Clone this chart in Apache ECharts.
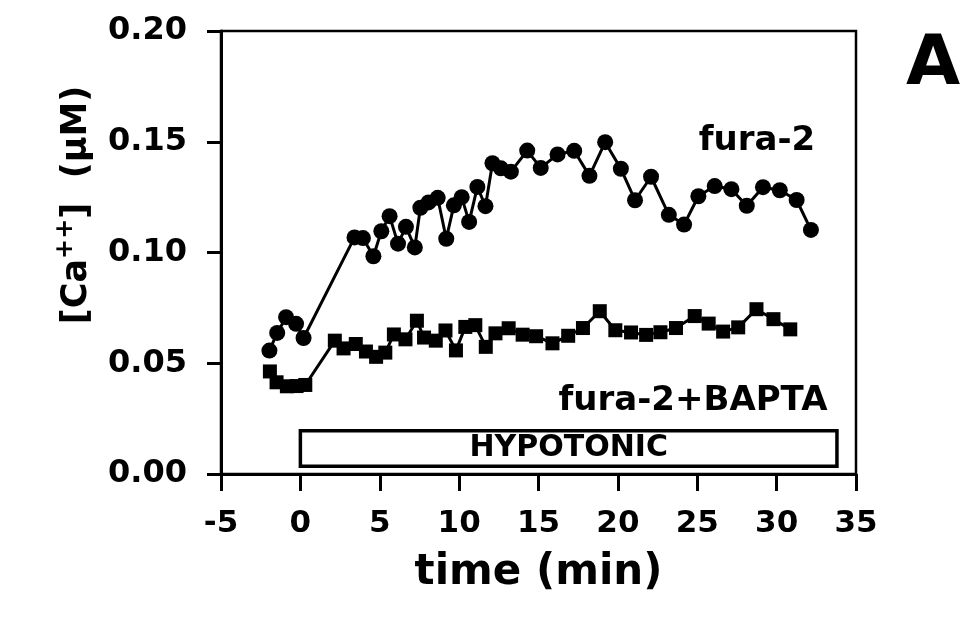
<!DOCTYPE html>
<html>
<head>
<meta charset="utf-8">
<script src="https://cdn.jsdelivr.net/npm/echarts@6/dist/echarts.min.js"></script>
<style>
  html, body { margin: 0; padding: 0; background: #fff; }
  #chart { width: 963px; height: 622px; }
</style>
</head>
<body>
<div id="chart"></div>
<script>
// time (min) and [Ca++] (uM)
const furaTime = [-1.95, -1.46, -0.90, -0.27, 0.20, 3.41, 3.94, 4.60, 5.10, 5.62, 6.15, 6.65, 7.21, 7.56, 8.07, 8.65, 9.19, 9.67, 10.16, 10.63, 11.15, 11.66, 12.10, 12.63, 13.26, 14.29, 15.14, 16.20, 17.25, 18.21, 19.20, 20.19, 21.08, 22.09, 23.21, 24.17, 25.07, 26.10, 27.15, 28.12, 29.14, 30.20, 31.26, 32.16];
const furaCa = [0.0557, 0.0637, 0.0708, 0.0678, 0.0614, 0.1068, 0.1065, 0.0983, 0.1096, 0.1164, 0.1040, 0.1116, 0.1023, 0.1202, 0.1226, 0.1247, 0.1062, 0.1213, 0.1250, 0.1138, 0.1296, 0.1209, 0.1403, 0.1380, 0.1365, 0.1460, 0.1382, 0.1443, 0.1459, 0.1346, 0.1498, 0.1378, 0.1236, 0.1342, 0.1170, 0.1126, 0.1254, 0.1300, 0.1286, 0.1211, 0.1295, 0.1281, 0.1237, 0.1102];

const baptaTime = [-1.92, -1.50, -0.85, -0.24, 0.31, 2.17, 2.72, 3.49, 4.13, 4.77, 5.35, 5.89, 6.62, 7.34, 7.79, 8.53, 9.14, 9.80, 10.39, 11.02, 11.68, 12.29, 13.12, 14.00, 14.85, 15.88, 16.87, 17.80, 18.86, 19.84, 20.83, 21.78, 22.68, 23.66, 24.84, 25.72, 26.63, 27.58, 28.73, 29.80, 30.86];
const baptaCa = [0.0463, 0.0414, 0.0396, 0.0397, 0.0402, 0.0602, 0.0567, 0.0587, 0.0553, 0.0529, 0.0548, 0.0630, 0.0608, 0.0692, 0.0616, 0.0602, 0.0648, 0.0558, 0.0664, 0.0672, 0.0574, 0.0635, 0.0658, 0.0629, 0.0622, 0.0590, 0.0624, 0.0659, 0.0735, 0.0649, 0.0639, 0.0628, 0.0640, 0.0659, 0.0713, 0.0679, 0.0643, 0.0662, 0.0744, 0.0699, 0.0653];

// hypotonic period bar: start, end (min)
const hypoStart = 0;
const hypoEnd = 33.8;

const chart = echarts.init(document.getElementById('chart'));
const font = 'DejaVu Sans';

const options = {
  animation: false,
  backgroundColor: '#fff',
  grid: {
    show: true,
    left: 221,
    right: 107,
    top: 31,
    bottom: 148,
    borderColor: '#000',
    borderWidth: 2.5
  },
  xAxis: {
    type: 'value',
    min: -5,
    max: 35,
    interval: 5,
    name: 'time (min)',
    nameLocation: 'middle',
    nameGap: 78,
    nameTextStyle: { fontFamily: font, fontWeight: 'bold', fontSize: 42, color: '#000' },
    axisLine: { onZero: false, lineStyle: { color: '#000', width: 3 } },
    axisTick: { show: true, inside: false, length: 17, lineStyle: { color: '#000', width: 3 } },
    axisLabel: { margin: 34, fontFamily: font, fontWeight: 'bold', fontSize: 31, color: '#000' },
    splitLine: { show: false }
  },
  yAxis: {
    type: 'value',
    min: 0,
    max: 0.2,
    interval: 0.05,
    axisLine: { show: true, onZero: false, lineStyle: { color: '#000', width: 3 } },
    axisTick: { show: true, inside: false, length: 14, lineStyle: { color: '#000', width: 3 } },
    axisLabel: {
      margin: 34,
      fontFamily: font, fontWeight: 'bold', fontSize: 32, color: '#000',
      formatter: v => v.toFixed(2)
    },
    splitLine: { show: false }
  },
  series: [
    {
      name: 'fura-2',
      type: 'line',
      data: furaTime.map((t, i) => [t, furaCa[i]]),
      symbol: 'circle',
      symbolSize: 16,
      itemStyle: { color: '#000' },
      lineStyle: { color: '#000', width: 3 },
      z: 3
    },
    {
      name: 'fura-2+BAPTA',
      type: 'line',
      data: baptaTime.map((t, i) => [t, baptaCa[i]]),
      symbol: 'rect',
      symbolSize: 14,
      itemStyle: { color: '#000' },
      lineStyle: { color: '#000', width: 3 },
      z: 3,
      markArea: {
        silent: true,
        itemStyle: { color: '#fff', borderColor: '#000', borderWidth: 3.5 },
        label: {
          show: true,
          position: 'inside',
          fontFamily: font, fontWeight: 'bold', fontSize: 30, color: '#000'
        },
        data: [[
          { name: 'HYPOTONIC', coord: [hypoStart, 0.0035] },
          { coord: [hypoEnd, 0.0195] }
        ]]
      }
    }
  ],
  graphic: [
    {
      type: 'text',
      x: 77, y: 205,
      rotation: Math.PI / 2,
      style: {
        text: '{a|[Ca}{s|++}{a|]  (μM)}',
        align: 'center',
        verticalAlign: 'middle',
        fill: '#000',
        rich: {
          a: { fontFamily: font, fontWeight: 'bold', fontSize: 35, fill: '#000' },
          s: { fontFamily: font, fontWeight: 'bold', fontSize: 24, fill: '#000', padding: [0, 0, 22, 0] }
        }
      }
    },
    {
      type: 'text', x: 757, y: 141,
      style: { text: 'fura-2', align: 'center', verticalAlign: 'middle', fill: '#000',
        font: 'bold 34px "DejaVu Sans"' }
    },
    {
      type: 'text', x: 693, y: 401,
      style: { text: 'fura-2+BAPTA', align: 'center', verticalAlign: 'middle', fill: '#000',
        font: 'bold 34px "DejaVu Sans"' }
    },
    {
      type: 'text', x: 933, y: 66,
      style: { text: 'A', align: 'center', verticalAlign: 'middle', fill: '#000',
        font: 'bold 70px "DejaVu Sans"' }
    }
  ]
};

chart.setOption(options);
</script>
</body>
</html>
